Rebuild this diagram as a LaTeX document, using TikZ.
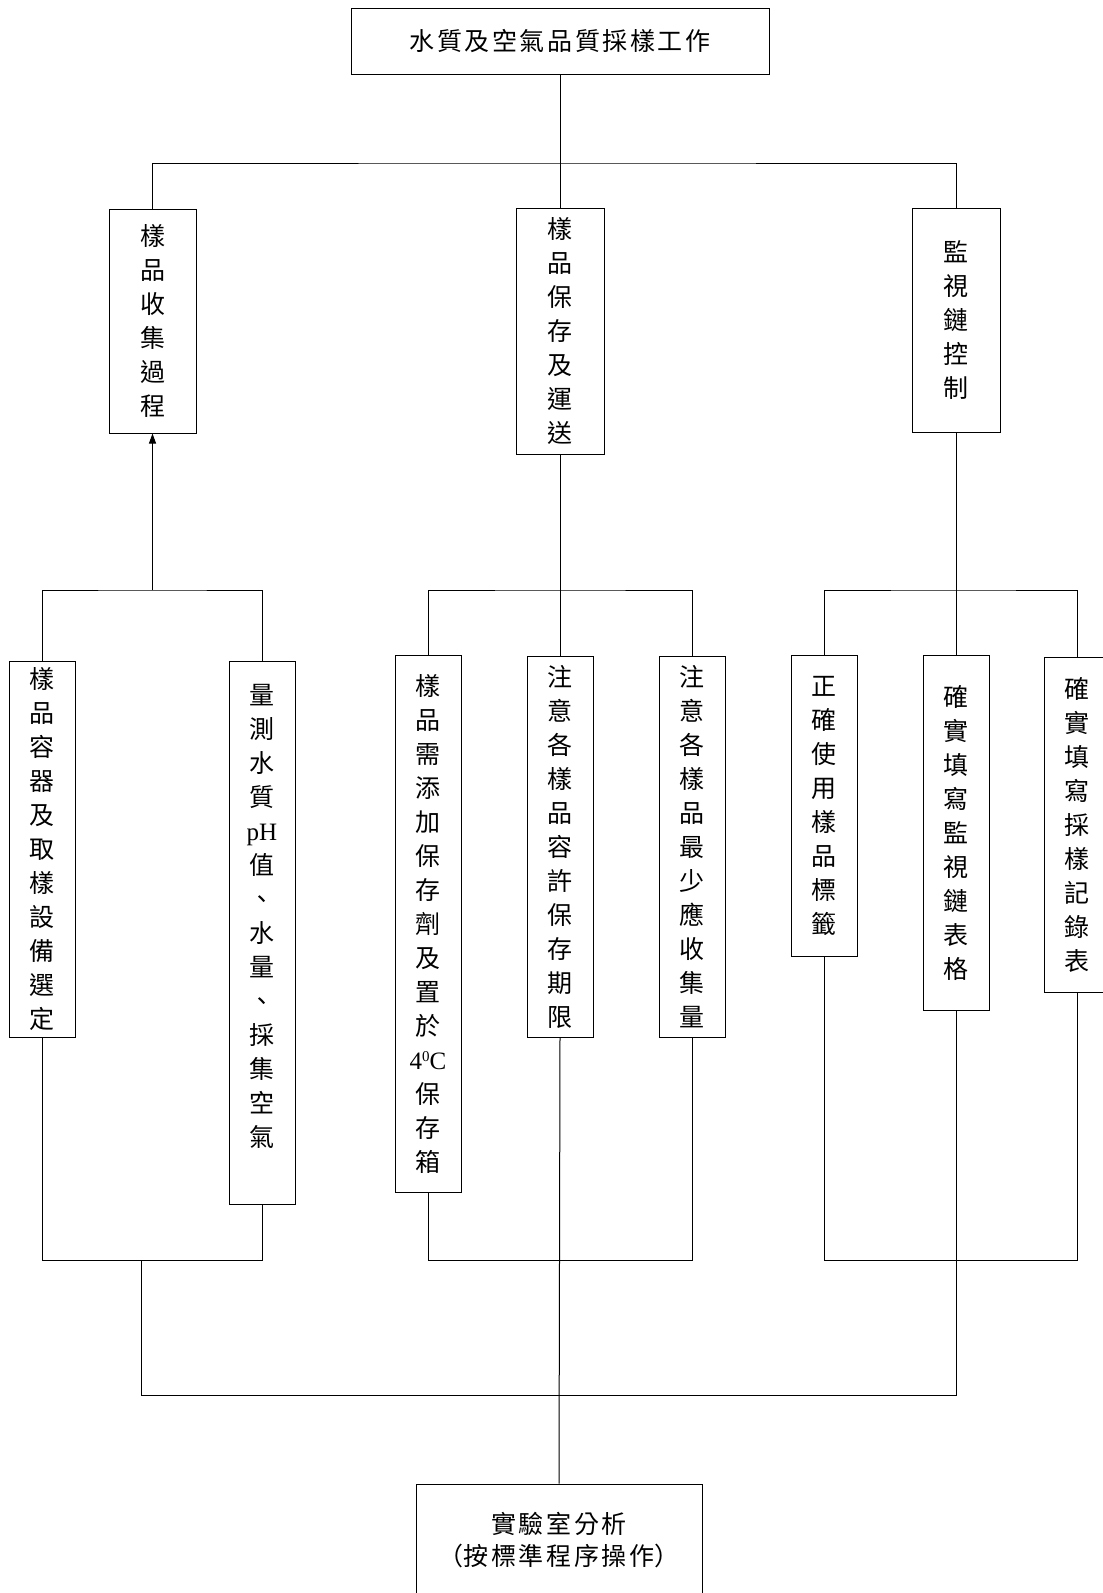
\documentclass[tikz,border=0pt]{standalone}
\usepackage{fontspec}
\usepackage{graphicx}
\usetikzlibrary{arrows.meta}
\newfontfamily\cjk{Noto Sans CJK TC}
\newfontfamily\latn{Liberation Serif}
\newcommand\ls{\kern2.6pt}
\newcommand\degc{{\latn 4\raisebox{8pt}{\fontsize{15}{15}\selectfont 0}C}}
\begin{document}
\begin{tikzpicture}[x=1pt,y=-1pt,
  box/.style={draw,line width=1pt,rectangle,inner sep=0pt,align=center,
    font=\cjk\fontsize{25}{34}\selectfont},
  colbox/.style={box,minimum width=66pt},
  conn/.style={line width=1pt},
  uparrow/.style={conn,-{Triangle[length=10pt,width=7pt]}}]
\clip (0,0) rectangle (1103,1593);
\fill[white] (0,0) rectangle (1103,1593);

% top
\node[box,minimum width=418pt,minimum height=66pt] (top) at (560,41)
  {水\ls 質\ls 及\ls 空\ls 氣\ls 品\ls 質\ls 採\ls 樣\ls 工\ls 作};

% level 2
\node[box,minimum width=87pt,minimum height=224pt] (A) at (152.5,321)
  {樣\\品\\收\\集\\過\\程};
\node[box,minimum width=88pt,minimum height=246pt] (B) at (560,331)
  {樣\\品\\保\\存\\及\\運\\送};
\node[box,minimum width=88pt,minimum height=224pt] (C) at (956,320)
  {監\\視\\鏈\\控\\制};

% level 3
\node[colbox,minimum height=376pt] (n1) at (42,849)
  {樣\\品\\容\\器\\及\\取\\樣\\設\\備\\選\\定};
\node[colbox,minimum height=543pt] (n2) at (262,932.5)
  {量\\測\\水\\質\\{\latn pH}\\值\\、\\水\\量\\、\\採\\集\\空\\氣\\\mbox{}};
\node[colbox,minimum height=537pt] (n3) at (428,923.5)
  {樣\\品\\需\\添\\加\\保\\存\\劑\\及\\置\\於\\\degc\\保\\存\\箱};
\node[colbox,minimum height=381pt] (n4) at (560,846.5)
  {注\\意\\各\\樣\\品\\容\\許\\保\\存\\期\\限};
\node[colbox,minimum height=381pt] (n5) at (692,846.5)
  {注\\意\\各\\樣\\品\\最\\少\\應\\收\\集\\量};
\node[colbox,minimum height=301pt] (n6) at (824,805.5)
  {正\\確\\使\\用\\樣\\品\\標\\籤};
\node[colbox,minimum height=355pt] (n7) at (956,832.5)
  {確\\實\\填\\寫\\監\\視\\鏈\\表\\格};
\node[colbox,minimum height=335pt] (n8) at (1077,824.5)
  {確\\實\\填\\寫\\採\\樣\\記\\錄\\表};

% bottom
\node[box,minimum width=286pt,minimum height=112pt,font=\cjk\fontsize{25}{32}\selectfont] (bot) at (559,1540)
  {實\ls 驗\ls 室\ls 分\ls 析\\（按\ls 標\ls 準\ls 程\ls 序\ls 操\ls 作）};

% junctions
\coordinate (busT) at (560,163);
\coordinate (busM) at (152.5,590);
\coordinate (busB) at (0,1260);
\coordinate (dropL) at (141,1260);
\coordinate (busF) at (0,1395);

% connectors top
\draw[conn] (top.south) -- (B.north);
\draw[conn] (A.north) |- (busT) -| (C.north);

% level 2 to level 3
\draw[uparrow] (busM) -- (A.south);
\draw[conn] (n1.north) |- (busM) -| (n2.north);
\draw[conn] (B.south) -- (n4.north);
\draw[conn] (n3.north) |- (n4.north |- busM) -| (n5.north);
\draw[conn] (C.south) -- (n7.north);
\draw[conn] (n6.north) |- (n7.north |- busM) -| (n8.north);

% level 3 to bottom
\draw[conn] (n1.south) |- (n2.south |- busB) -- (n2.south);
\draw[conn] (n3.south) |- (n5.south |- busB) -- (n5.south);
\draw[conn] (n6.south) |- (n8.south |- busB) -- (n8.south);
\draw[conn] (dropL) |- (n7.south |- busF) -- (n7.south);
\draw[conn] (n4.south) -- (bot.north);
\end{tikzpicture}
\end{document}
